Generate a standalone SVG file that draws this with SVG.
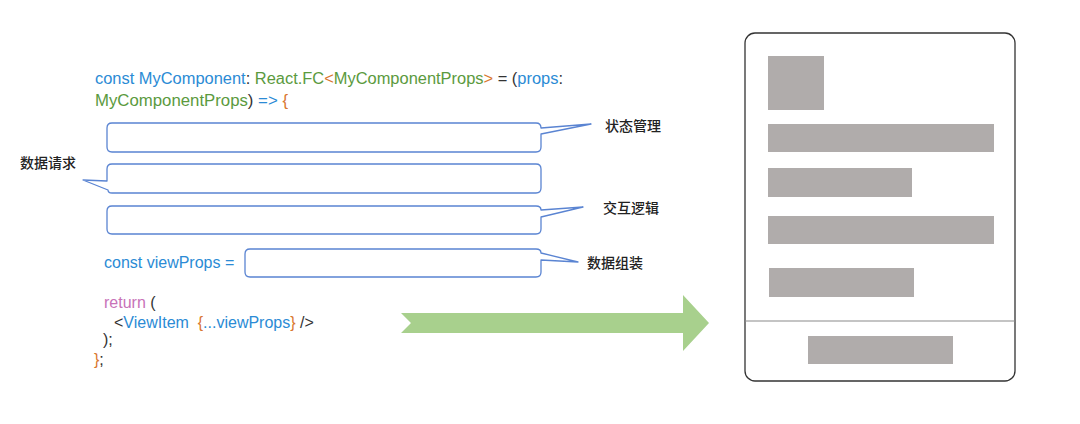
<svg xmlns="http://www.w3.org/2000/svg" width="1080" height="424" viewBox="0 0 1080 424">
<style>
.code{font-family:"Liberation Sans","Noto Sans",sans-serif;font-size:16px;fill:#333333}
.b{fill:#2b8bd5}.g{fill:#5b9a3e}.o{fill:#d9772f}.p{fill:#c872b8}.d{fill:#333333}
.lbl{font-family:"Noto Sans CJK SC","Noto Sans",sans-serif;font-size:14px;fill:#222222;font-weight:500}
.callout{fill:#ffffff;stroke:#5a84d2;stroke-width:1.3;stroke-linejoin:round}
.bar{fill:#b0acab}
</style>
<rect width="1080" height="424" fill="#ffffff"/>
<g id="code">
<text class="code" x="95" y="84" textLength="468" lengthAdjust="spacingAndGlyphs"><tspan class="b">const MyComponent</tspan><tspan class="d">: </tspan><tspan class="g">React.FC</tspan><tspan class="o">&lt;</tspan><tspan class="g">MyComponentProps</tspan><tspan class="o">&gt;</tspan><tspan class="d"> = (</tspan><tspan class="b">props</tspan><tspan class="d">:</tspan></text>
<text class="code" x="95" y="106" textLength="193" lengthAdjust="spacingAndGlyphs"><tspan class="g">MyComponentProps</tspan><tspan class="d">) </tspan><tspan class="b">=&gt; </tspan><tspan class="o">{</tspan></text>
<text class="code b" x="104" y="268">const viewProps =</text>
<text class="code" x="104" y="308"><tspan class="p">return</tspan><tspan class="d"> (</tspan></text>
<text class="code" x="114" y="328"><tspan class="d">&lt;</tspan><tspan class="b">ViewItem</tspan><tspan class="d" xml:space="preserve">  </tspan><tspan class="o">{</tspan><tspan class="b">...viewProps</tspan><tspan class="o">}</tspan><tspan class="d"> /&gt;</tspan></text>
<text class="code d" x="103" y="345">);</text>
<text class="code" x="94" y="365"><tspan class="o">}</tspan><tspan class="d">;</tspan></text>
</g>
<g id="callout-state">
<path class="callout" d="M112,123 H536 Q541,123 541,128 L591,124 L541,134 V147 Q541,152 536,152 H112 Q107,152 107,147 V128 Q107,123 112,123 Z"/>
<text class="lbl" x="605" y="131">状态管理</text>
</g>
<g id="callout-fetch">
<path class="callout" d="M112,164 H536 Q541,164 541,169 V188 Q541,193 536,193 H112 Q108,193 108,190 L83,180 L107,181 V169 Q107,164 112,164 Z"/>
<text class="lbl" x="20" y="168">数据请求</text>
</g>
<g id="callout-interaction">
<path class="callout" d="M112,206 H536 Q541,206 541,210 L583,207 L541,217 V229 Q541,234 536,234 H112 Q107,234 107,229 V211 Q107,206 112,206 Z"/>
<text class="lbl" x="603" y="213">交互逻辑</text>
</g>
<g id="callout-assemble">
<path class="callout" d="M250,249 H536 Q541,249 541,253 L578,262 L541,260 V272 Q541,277 536,277 H250 Q245,277 245,272 V254 Q245,249 250,249 Z"/>
<text class="lbl" x="587" y="268">数据组装</text>
</g>
<g id="connectors">
<path d="M401,313 H683 V295 L709,323 L683,351 V333 H401 L411,323 Z" fill="#a8d08d"/>
</g>
<g id="phone">
<rect x="745" y="33" width="270" height="348" rx="10" ry="10" fill="#ffffff" stroke="#333333" stroke-width="1.3"/>
<line x1="745" y1="321" x2="1015" y2="321" stroke="#8a8a8a" stroke-width="1.2"/>
<rect class="bar" x="768" y="56" width="56" height="54"/>
<rect class="bar" x="768" y="124" width="226" height="28"/>
<rect class="bar" x="768" y="168" width="144" height="29"/>
<rect class="bar" x="768" y="216" width="226" height="28"/>
<rect class="bar" x="769" y="268" width="145" height="29"/>
<rect class="bar" x="808" y="336" width="145" height="28"/>
</g>
</svg>
